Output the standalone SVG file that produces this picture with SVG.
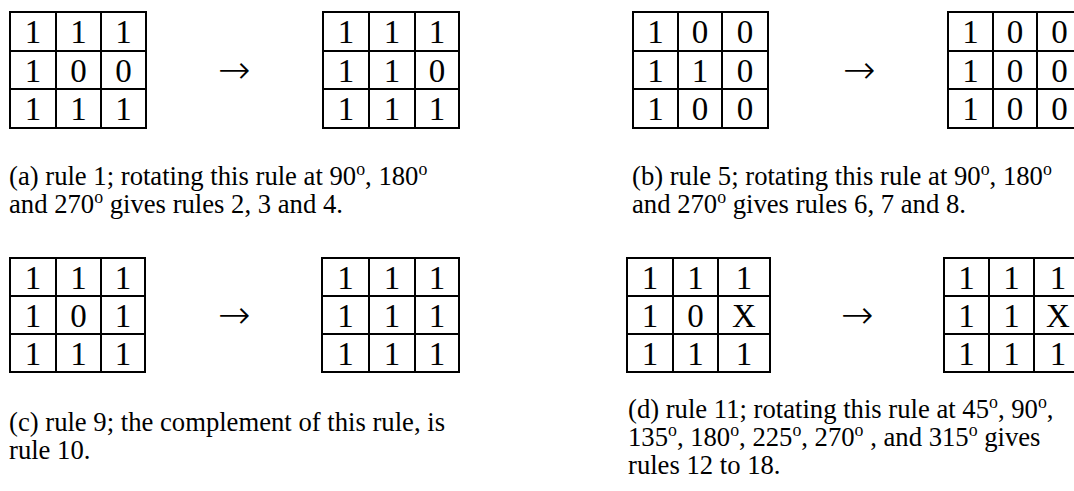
<svg xmlns="http://www.w3.org/2000/svg" width="1074" height="491" viewBox="0 0 1074 491">
<style>
.g rect,.g path{fill:none;stroke:#000;stroke-width:2}
.g text{font-family:"Liberation Serif","Times New Roman",serif;font-size:33px;text-anchor:middle;fill:#000}
.arr{font-family:"DejaVu Sans",sans-serif;font-weight:200;font-size:39px;text-anchor:middle;fill:#000}
.cap{font-family:"Liberation Serif","Times New Roman",serif;font-size:26.67px;fill:#000}
</style>
<rect width="1074" height="491" fill="#fff"/>
<g id="grid-a-left" class="g">
<rect x="10" y="12" width="136" height="116"/>
<path d="M56 12V128M101 12V128M10 51H146M10 89H146"/>
<text x="33" y="43.3">1</text><text x="78.5" y="43.3">1</text><text x="123.5" y="43.3">1</text>
<text x="33" y="82.3">1</text><text x="78.5" y="82.3">0</text><text x="123.5" y="82.3">0</text>
<text x="33" y="120.3">1</text><text x="78.5" y="120.3">1</text><text x="123.5" y="120.3">1</text>
</g>
<g id="grid-a-right" class="g">
<rect x="323" y="12" width="136" height="116"/>
<path d="M369 12V128M415 12V128M323 51H459M323 89H459"/>
<text x="346" y="43.3">1</text><text x="392" y="43.3">1</text><text x="437" y="43.3">1</text>
<text x="346" y="82.3">1</text><text x="392" y="82.3">1</text><text x="437" y="82.3">0</text>
<text x="346" y="120.3">1</text><text x="392" y="120.3">1</text><text x="437" y="120.3">1</text>
</g>
<g id="grid-b-left" class="g">
<rect x="633" y="12" width="135" height="116"/>
<path d="M678 12V128M722 12V128M633 51H768M633 89H768"/>
<text x="655.5" y="43.3">1</text><text x="700" y="43.3">0</text><text x="745" y="43.3">0</text>
<text x="655.5" y="82.3">1</text><text x="700" y="82.3">1</text><text x="745" y="82.3">0</text>
<text x="655.5" y="120.3">1</text><text x="700" y="120.3">0</text><text x="745" y="120.3">0</text>
</g>
<g id="grid-b-right" class="g">
<rect x="948" y="12" width="134" height="116"/>
<path d="M993 12V128M1037 12V128M948 51H1082M948 89H1082"/>
<text x="970.5" y="43.3">1</text><text x="1015" y="43.3">0</text><text x="1059.5" y="43.3">0</text>
<text x="970.5" y="82.3">1</text><text x="1015" y="82.3">0</text><text x="1059.5" y="82.3">0</text>
<text x="970.5" y="120.3">1</text><text x="1015" y="120.3">0</text><text x="1059.5" y="120.3">0</text>
</g>
<g id="grid-c-left" class="g">
<rect x="10" y="258" width="135" height="114"/>
<path d="M56 258V372M101 258V372M10 296H145M10 334H145"/>
<text x="33" y="289.3">1</text><text x="78.5" y="289.3">1</text><text x="123" y="289.3">1</text>
<text x="33" y="327.3">1</text><text x="78.5" y="327.3">0</text><text x="123" y="327.3">1</text>
<text x="33" y="365.3">1</text><text x="78.5" y="365.3">1</text><text x="123" y="365.3">1</text>
</g>
<g id="grid-c-right" class="g">
<rect x="322" y="258" width="137" height="114"/>
<path d="M369 258V372M415 258V372M322 296H459M322 334H459"/>
<text x="345.5" y="289.3">1</text><text x="392" y="289.3">1</text><text x="437" y="289.3">1</text>
<text x="345.5" y="327.3">1</text><text x="392" y="327.3">1</text><text x="437" y="327.3">1</text>
<text x="345.5" y="365.3">1</text><text x="392" y="365.3">1</text><text x="437" y="365.3">1</text>
</g>
<g id="grid-d-left" class="g">
<rect x="627" y="258" width="143" height="114"/>
<path d="M673 258V372M718 258V372M627 296H770M627 334H770"/>
<text x="650" y="289.3">1</text><text x="695.5" y="289.3">1</text><text x="744" y="289.3">1</text>
<text x="650" y="327.3">1</text><text x="695.5" y="327.3">0</text><text x="744" y="327.3">X</text>
<text x="650" y="365.3">1</text><text x="695.5" y="365.3">1</text><text x="744" y="365.3">1</text>
</g>
<g id="grid-d-right" class="g">
<rect x="944" y="258" width="138" height="114"/>
<path d="M989 258V372M1034 258V372M944 296H1082M944 334H1082"/>
<text x="966.5" y="289.3">1</text><text x="1011.5" y="289.3">1</text><text x="1058" y="289.3">1</text>
<text x="966.5" y="327.3">1</text><text x="1011.5" y="327.3">1</text><text x="1058" y="327.3">X</text>
<text x="966.5" y="365.3">1</text><text x="1011.5" y="365.3">1</text><text x="1058" y="365.3">1</text>
</g>
<g id="connectors">
<text class="arr" x="234" y="83">→</text>
<text class="arr" x="859" y="83">→</text>
<text class="arr" x="234" y="328">→</text>
<text class="arr" x="857" y="328">→</text>
</g>
<g id="captions">
<text class="cap" x="9" y="185">(a) rule 1; rotating this rule at 90<tspan dy="-10" font-size="17.8">o</tspan><tspan dy="10">, 180</tspan><tspan dy="-10" font-size="17.8">o</tspan></text>
<text class="cap" x="9" y="213">and 270<tspan dy="-10" font-size="17.8">o</tspan><tspan dy="10"> gives rules 2, 3 and 4.</tspan></text>
<text class="cap" x="632" y="185">(b) rule 5; rotating this rule at 90<tspan dy="-10" font-size="17.8">o</tspan><tspan dy="10">, 180</tspan><tspan dy="-10" font-size="17.8">o</tspan></text>
<text class="cap" x="632" y="213">and 270<tspan dy="-10" font-size="17.8">o</tspan><tspan dy="10"> gives rules 6, 7 and 8.</tspan></text>
<text class="cap" x="9" y="431">(c) rule 9; the complement of this rule, is</text>
<text class="cap" x="9" y="459">rule 10.</text>
<text class="cap" x="628" y="418">(d) rule 11; rotating this rule at 45<tspan dy="-10" font-size="17.8">o</tspan><tspan dy="10">, 90</tspan><tspan dy="-10" font-size="17.8">o</tspan><tspan dy="10">,</tspan></text>
<text class="cap" x="628" y="446">135<tspan dy="-10" font-size="17.8">o</tspan><tspan dy="10">, 180</tspan><tspan dy="-10" font-size="17.8">o</tspan><tspan dy="10">, 225</tspan><tspan dy="-10" font-size="17.8">o</tspan><tspan dy="10">, 270</tspan><tspan dy="-10" font-size="17.8">o</tspan><tspan dy="10"> , and 315</tspan><tspan dy="-10" font-size="17.8">o</tspan><tspan dy="10"> gives</tspan></text>
<text class="cap" x="628" y="474">rules 12 to 18.</text>
</g>
</svg>
